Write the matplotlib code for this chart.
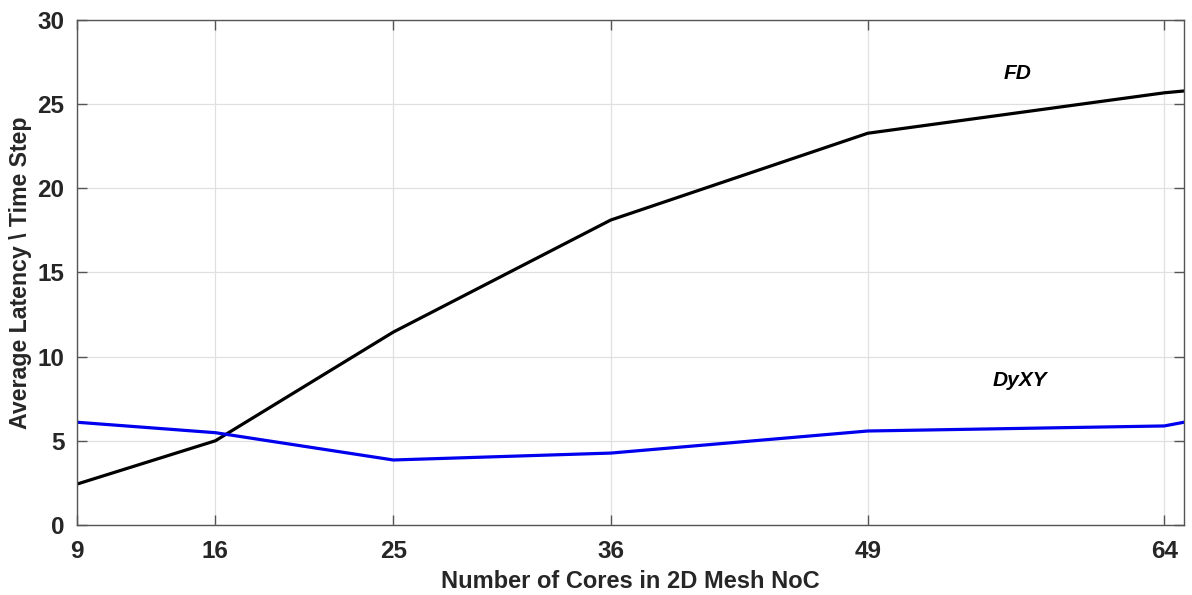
import numpy as np
import matplotlib.pyplot as plt

cores = [9, 16, 25, 36, 49, 64, 65]
fd = [2.43, 5.0, 11.45, 18.1, 23.25, 25.65, 25.76]
dyxy = [6.1, 5.48, 3.86, 4.27, 5.58, 5.88, 6.1]
xticks = [9, 16, 25, 36, 49, 64]
yticks = [0, 5, 10, 15, 20, 25, 30]

plt.rcParams['font.family'] = ['Liberation Sans', 'DejaVu Sans']
plt.rcParams['font.weight'] = 'bold'

fig = plt.figure(figsize=(11.92, 5.95), dpi=100)
ax = fig.add_axes([0.0646, 0.1176, 0.9287, 0.8496])

ax.plot(cores, fd, color='black', lw=2.3)
ax.plot(cores, dyxy, color='#0000ee', lw=2.3)

ax.set_xlim(9, 65)
ax.set_ylim(0, 30)
ax.set_xticks(xticks)
ax.set_yticks(yticks)
ax.grid(True, color='#e0e0e0', lw=0.9)
ax.set_axisbelow(True)
for s in ax.spines.values():
    s.set_color('#555555')
    s.set_linewidth(1.0)
ax.tick_params(direction='in', top=True, right=True, length=7, width=1.0,
               color='#555555', labelsize=17.5, labelcolor='#262626')
ax.tick_params(axis='x', pad=11)
ax.tick_params(axis='y', pad=9)
for lab in ax.get_xticklabels() + ax.get_yticklabels():
    lab.set_fontweight('bold')

ax.set_xlabel('Number of Cores in 2D Mesh NoC', fontsize=17, fontweight='bold',
              color='#262626', labelpad=5)
ax.set_ylabel('Average Latency \\ Time Step', fontsize=16.7, fontweight='bold',
              color='#262626', labelpad=4)

ax.text(56.6, 26.77, 'FD', fontsize=15, fontweight='bold', style='italic',
        ha='center', va='center', color='black')
ax.text(56.7, 8.6, 'DyXY', fontsize=15, fontweight='bold', style='italic',
        ha='center', va='center', color='black')

fig.savefig('out.png', dpi=100)
